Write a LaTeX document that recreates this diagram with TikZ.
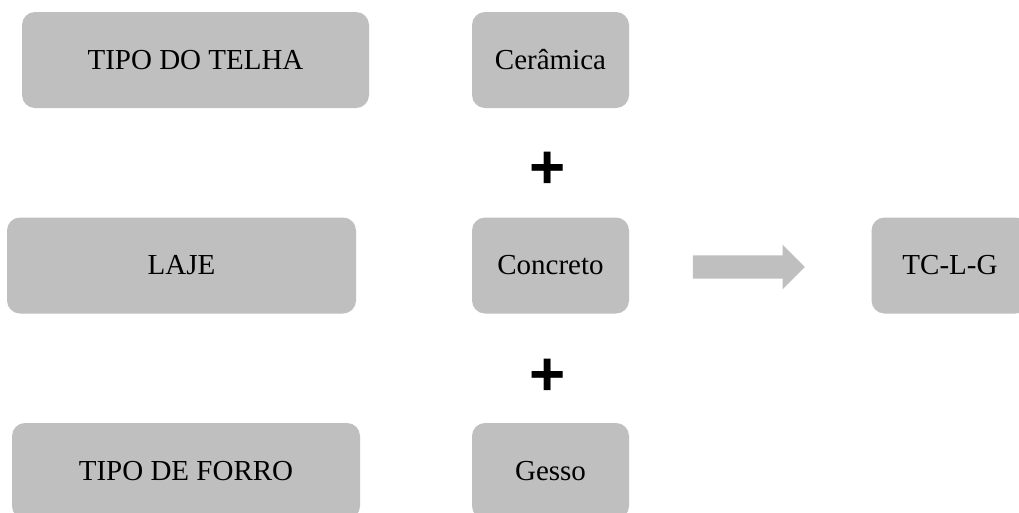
\documentclass[tikz,border=0pt]{standalone}
\usepackage{fontspec}
\setmainfont{Liberation Serif}
\newfontfamily\plusfont{Liberation Sans}
\usetikzlibrary{shapes.arrows}
\definecolor{boxgray}{RGB}{191,191,191}

\begin{document}
\begin{tikzpicture}[
  x=1pt, y=-1pt,
  every node/.style={font=\fontsize{29}{30}\selectfont},
  cat/.style={fill=boxgray, rounded corners=13pt, minimum height=96pt, inner sep=0pt},
  opt/.style={cat, minimum width=157pt},
  plus/.style={font=\plusfont\bfseries\fontsize{62}{62}\selectfont, inner sep=0pt},
]
\clip (0,0) rectangle (1019,512);
\fill[white] (0,0) rectangle (1019,512);

% left column: categories
\node[cat, minimum width=347pt] (telha) at (195.5, 60) {TIPO DO TELHA};
\node[cat, minimum width=349pt] (laje)  at (181.5, 265.5) {LAJE};
\node[cat, minimum width=348pt] (forro) at (186, 471) {TIPO DE FORRO};

% middle column: chosen options
\node[opt] (ceramica) at (550.5, 60) {Cerâmica};
\node[opt] (concreto) at (550.5, 265.5) {Concreto};
\node[opt] (gesso)    at (550.5, 471) {Gesso};

% plus signs
\node[plus] (plus1) at (548, 170) {+};
\node[plus] (plus2) at (548, 377) {+};

% result
\node[single arrow, fill=boxgray, minimum height=112pt, minimum width=44pt,
      single arrow head extend=10.5pt, inner xsep=0pt, inner ysep=11.5pt,
      text height=0pt, text depth=0pt] (seta) at (743, 267) {};
\node[opt] (tclg) at (950, 265.5) {TC-L-G};
\end{tikzpicture}
\end{document}
